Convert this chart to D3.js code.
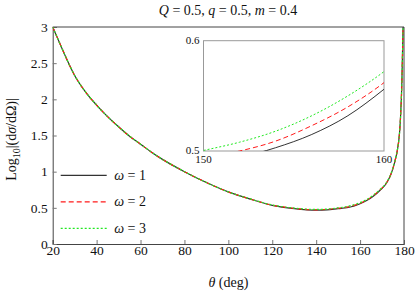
<!DOCTYPE html>
<html lang="en">
  <head>
    <meta charset="utf-8">
    <title>Log10 cross section vs theta</title>
    <script src="https://d3js.org/d3.v7.min.js"></script>
    <style>
      body { margin: 0; background: #fff; }
      svg, svg text { font-family: "Liberation Serif", "Times New Roman", Times, "DejaVu Serif", serif !important; fill: #111; }
    </style>
  </head>
  <body>
    <div id="chart"></div>
    <script>
      // data
      var theta = [20, 22, 25, 30, 35, 40, 45, 50, 55, 60, 65, 70, 80, 90, 100, 110, 120, 130, 140, 145,
                   150, 152, 154, 156, 158, 160, 163, 166, 169, 172, 174, 175, 176, 177, 178, 178.5, 179, 179.5, 180];
      var omega1 = [3.0, 2.86, 2.65, 2.33, 2.10, 1.92, 1.76, 1.62, 1.49, 1.38, 1.27, 1.17, 1.00, 0.85, 0.72, 0.62, 0.535, 0.49, 0.468, 0.472,
                    0.488, 0.494, 0.503, 0.515, 0.532, 0.556, 0.60, 0.66, 0.74, 0.84, 0.96, 1.05, 1.16, 1.30, 1.55, 1.80, 2.2, 2.9, 3.6];
      var omega2 = [3.0, 2.86, 2.65, 2.33, 2.10, 1.92, 1.76, 1.62, 1.49, 1.38, 1.27, 1.17, 1.00, 0.85, 0.72, 0.621, 0.537, 0.493, 0.473, 0.478,
                    0.494, 0.500, 0.509, 0.523, 0.540, 0.562, 0.607, 0.667, 0.746, 0.845, 0.96, 1.05, 1.16, 1.30, 1.55, 1.80, 2.2, 2.9, 3.6];
      var omega3 = [3.0, 2.86, 2.65, 2.33, 2.10, 1.92, 1.76, 1.62, 1.49, 1.38, 1.27, 1.17, 1.00, 0.85, 0.72, 0.623, 0.540, 0.497, 0.478, 0.483,
                    0.5005, 0.508, 0.518, 0.532, 0.550, 0.572, 0.615, 0.675, 0.752, 0.85, 0.965, 1.055, 1.165, 1.30, 1.55, 1.80, 2.2, 2.9, 3.6];
      var xTicks = [20, 40, 60, 80, 100, 120, 140, 160, 180];
      var yTicks = [0, 0.5, 1, 1.5, 2, 2.5, 3];
      var seriesNames = ["1", "2", "3"];
      var seriesColors = ["#333", "#ff1a1a", "#22e822"];
      var seriesDash = [null, "5,3", "2,2"];

      var FONT = "'Liberation Serif', 'Times New Roman', Times, 'DejaVu Serif', serif";
      var W = 415, H = 295;
      var margin = {top: 27, right: 11, bottom: 51, left: 52.7};
      var w = W - margin.left - margin.right, h = H - margin.top - margin.bottom;

      var svg = d3.select("#chart").append("svg").attr("width", W).attr("height", H)
        .attr("font-family", FONT);
      var defs = svg.append("defs");

      var series = [omega1, omega2, omega3].map(function (vals, i) {
        return {
          name: seriesNames[i], color: seriesColors[i], dash: seriesDash[i],
          pts: theta.map(function (t, j) { return [t, vals[j]]; })
        };
      });

      // main plot
      var x = d3.scaleLinear().domain([20, 180]).range([0, w]);
      var y = d3.scaleLinear().domain([0, 3]).range([h, 0]);
      var g = svg.append("g").attr("transform", "translate(" + margin.left + "," + margin.top + ")");

      defs.append("clipPath").attr("id", "clipMain")
        .append("rect").attr("width", w).attr("height", h);

      var xAxis = g.append("g").attr("transform", "translate(0," + h + ")")
        .call(d3.axisBottom(x).tickValues(xTicks).tickSize(-4).tickPadding(1.5).tickFormat(d3.format("d")));
      var yAxis = g.append("g")
        .call(d3.axisLeft(y).tickValues(yTicks).tickSize(-4).tickPadding(5).tickFormat(function (d) { return String(d); }));
      [xAxis, yAxis].forEach(function (a) {
        a.attr("font-family", FONT).attr("font-size", 13.5);
        a.select(".domain").attr("stroke", "#444");
        a.selectAll(".tick line").attr("stroke", "#777");
        a.selectAll("text").attr("fill", "#111");
      });
      // top and right frame
      g.append("line").attr("x1", 0).attr("x2", w).attr("y1", 0).attr("y2", 0).attr("stroke", "#444");
      g.append("line").attr("x1", w).attr("x2", w).attr("y1", 0).attr("y2", h).attr("stroke", "#444");

      var line = d3.line().x(function (d) { return x(d[0]); }).y(function (d) { return y(d[1]); })
        .curve(d3.curveMonotoneX);

      var plot = g.append("g").attr("clip-path", "url(#clipMain)");
      series.forEach(function (s) {
        plot.append("path").datum(s.pts).attr("d", line)
          .attr("fill", "none").attr("stroke", s.color).attr("stroke-width", 1.2)
          .attr("stroke-dasharray", s.dash);
      });

      // inset
      var ins = {x: 203.5, y: 40.7, w: 180.5, h: 110.3};
      var xi = d3.scaleLinear().domain([150, 160]).range([0, ins.w]);
      var yi = d3.scaleLinear().domain([0.5, 0.6]).range([ins.h, 0]);
      var gi = svg.append("g").attr("transform", "translate(" + ins.x + "," + ins.y + ")");
      defs.append("clipPath").attr("id", "clipInset")
        .append("rect").attr("width", ins.w).attr("height", ins.h);
      gi.append("rect").attr("width", ins.w).attr("height", ins.h)
        .attr("fill", "#fff").attr("stroke", "#999").attr("stroke-width", 1);
      var lineI = d3.line().x(function (d) { return xi(d[0]); }).y(function (d) { return yi(d[1]); })
        .curve(d3.curveMonotoneX);
      var pi = gi.append("g").attr("clip-path", "url(#clipInset)");
      series.forEach(function (s) {
        pi.append("path").datum(s.pts).attr("d", lineI)
          .attr("fill", "none").attr("stroke", s.color).attr("stroke-width", 1)
          .attr("stroke-dasharray", s.dash);
      });
      [150, 160].forEach(function (t) {
        gi.append("text").attr("x", xi(t)).attr("y", ins.h + 12).attr("text-anchor", "middle")
          .attr("font-size", 11).text(t);
      });
      [0.5, 0.6].forEach(function (v) {
        gi.append("text").attr("x", -4).attr("y", yi(v) + 3.5).attr("text-anchor", "end")
          .attr("font-size", 11).text(v.toFixed(1));
      });

      // legend
      var lg = g.append("g");
      series.forEach(function (s, i) {
        var ly = 148.3 + i * 26.5;
        lg.append("line").attr("x1", 8).attr("x2", 54).attr("y1", ly).attr("y2", ly)
          .attr("stroke", s.color).attr("stroke-width", 1.2).attr("stroke-dasharray", s.dash);
        var t = lg.append("text").attr("x", 61.5).attr("y", ly + 4.5).attr("font-size", 14);
        t.append("tspan").attr("font-style", "italic").text("ω");
        t.append("tspan").text(" = " + s.name);
      });

      // title
      var title = svg.append("text").attr("x", 228).attr("y", 15).attr("text-anchor", "middle").attr("font-size", 14);
      title.append("tspan").attr("font-style", "italic").text("Q");
      title.append("tspan").text(" = 0.5, ");
      title.append("tspan").attr("font-style", "italic").text("q");
      title.append("tspan").text(" = 0.5, ");
      title.append("tspan").attr("font-style", "italic").text("m");
      title.append("tspan").text(" = 0.4");

      // axis labels
      var xl = svg.append("text").attr("x", margin.left + w / 2).attr("y", 287).attr("text-anchor", "middle").attr("font-size", 14);
      xl.append("tspan").attr("font-style", "italic").text("θ");
      xl.append("tspan").text(" (deg)");

      var yl = svg.append("text").attr("transform", "translate(16," + (margin.top + h / 2 + 4) + ") rotate(-90)")
        .attr("text-anchor", "middle").attr("font-size", 14);
      yl.append("tspan").text("Log");
      yl.append("tspan").attr("font-size", 10).attr("dy", 4).text("10");
      yl.append("tspan").attr("dy", -4).text("|(d");
      yl.append("tspan").attr("font-style", "italic").text("σ");
      yl.append("tspan").text("/dΩ)|");
    </script>
  </body>
</html>
